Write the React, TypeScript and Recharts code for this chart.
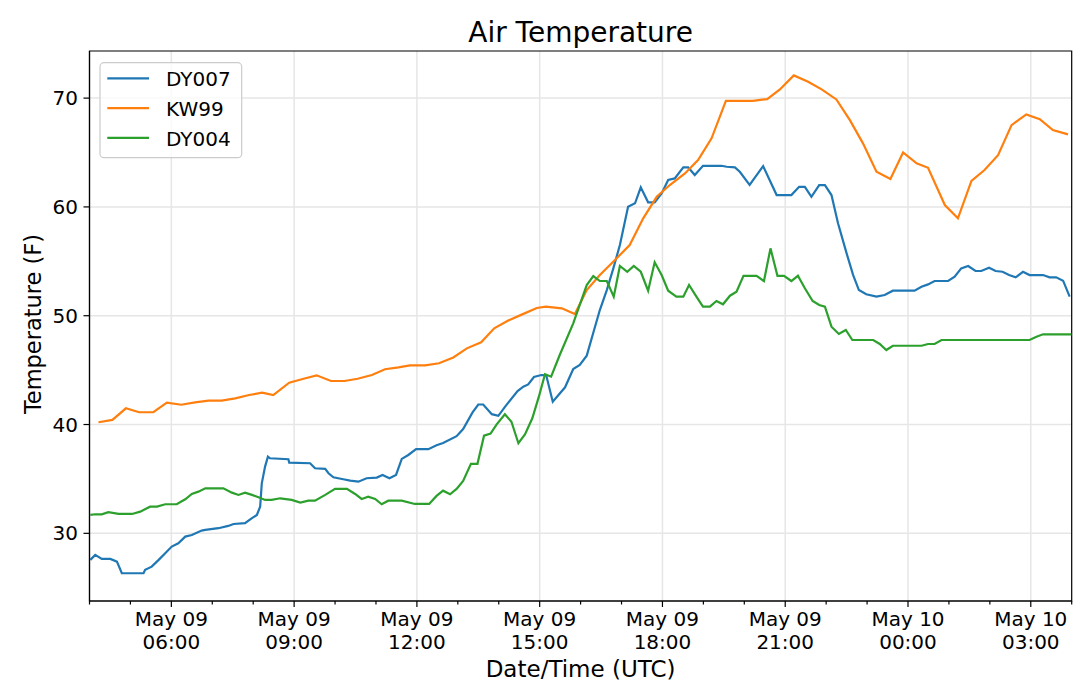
import React from 'react';
import { LineChart, Line, XAxis, YAxis, CartesianGrid, ReferenceArea } from 'recharts';

const seriesNames = ['DY007', 'KW99', 'DY004'];
const seriesColors = ['#1f77b4', '#ff7f0e', '#2ca02c'];

// hours since May 09 00:00 UTC
const dy007Times = [
  4.02, 4.14, 4.30, 4.51, 4.67, 4.79, 5.32, 5.36, 5.52, 5.69,
  5.85, 6.01, 6.17, 6.34, 6.50, 6.74, 6.83, 7.15, 7.39, 7.52,
  7.80, 7.97, 8.09, 8.17, 8.21, 8.29, 8.36, 8.41, 8.86, 8.88,
  9.39, 9.51, 9.76, 9.84, 9.96, 10.20, 10.37, 10.57, 10.77, 11.02,
  11.16, 11.33, 11.49, 11.63, 11.79, 11.98, 12.28, 12.48, 12.64, 12.97,
  13.13, 13.36, 13.50, 13.62, 13.83, 13.99, 14.17, 14.46, 14.60, 14.72,
  14.86, 15.04, 15.16, 15.32, 15.62, 15.82, 15.98, 16.15, 16.31, 16.47,
  16.64, 16.80, 16.96, 17.16, 17.33, 17.47, 17.65, 17.81, 17.98, 18.14,
  18.30, 18.51, 18.63, 18.79, 18.99, 19.44, 19.57, 19.77, 19.89, 20.13,
  20.46, 20.79, 21.15, 21.34, 21.48, 21.64, 21.83, 21.97, 22.13, 22.29,
  22.50, 22.66, 22.80, 22.98, 23.23, 23.43, 23.63, 24.16, 24.33, 24.49,
  24.65, 24.98, 25.14, 25.30, 25.47, 25.65, 25.79, 25.98, 26.14, 26.31,
  26.47, 26.63, 26.81, 26.97, 27.30, 27.46, 27.62, 27.79, 27.95,
];
const dy007Values = [
  27.56, 28.02, 27.65, 27.65, 27.4, 26.33, 26.33, 26.64, 26.94, 27.56,
  28.17, 28.78, 29.09, 29.7, 29.85, 30.25, 30.31, 30.47, 30.68, 30.86,
  30.93, 31.39, 31.69, 32.45, 34.6, 36.13, 37.05, 36.9, 36.81, 36.5,
  36.44, 35.98, 35.92, 35.52, 35.15, 34.97, 34.84, 34.75, 35.06, 35.12,
  35.37, 35.06, 35.37, 36.84, 37.2, 37.73, 37.73, 38.09, 38.3, 38.93,
  39.59, 41.11, 41.84, 41.84, 40.95, 40.8, 41.72, 43.08, 43.48, 43.68,
  44.37, 44.55, 44.52, 42.1, 43.42, 45.1, 45.47, 46.33, 48.44, 50.52,
  52.36, 54.35, 56.5, 60.01, 60.33, 61.8, 60.42, 60.42, 61.24, 62.47,
  62.62, 63.63, 63.63, 62.93, 63.78, 63.78, 63.69, 63.63, 63.23, 62.03,
  63.75, 61.09, 61.09, 61.85, 61.85, 60.93, 62.01, 62.01, 61.09, 58.49,
  55.73, 53.74, 52.36, 51.97, 51.75, 51.9, 52.3, 52.3, 52.66, 52.88,
  53.19, 53.19, 53.58, 54.35, 54.57, 54.11, 54.11, 54.41, 54.11, 54.04,
  53.74, 53.53, 54.04, 53.74, 53.74, 53.53, 53.53, 53.22, 51.75,
];

const kw99Times = [
  4.22, 4.56, 4.89, 5.21, 5.56, 5.89, 6.24, 6.58, 6.91, 7.23,
  7.56, 7.90, 8.22, 8.49, 8.88, 9.23, 9.55, 9.90, 10.23, 10.55,
  10.90, 11.22, 11.55, 11.83, 12.20, 12.54, 12.89, 13.22, 13.57, 13.89,
  14.22, 14.56, 14.93, 15.15, 15.54, 15.86, 16.15, 16.47, 16.84, 17.20,
  17.53, 17.86, 18.18, 18.55, 18.87, 19.20, 19.55, 19.89, 20.21, 20.56,
  20.87, 21.21, 21.56, 21.89, 22.25, 22.58, 22.90, 23.23, 23.57, 23.88,
  24.21, 24.49, 24.90, 25.22, 25.55, 25.87, 26.20, 26.53, 26.89, 27.22,
  27.54, 27.91,
];
const kw99Values = [
  40.21, 40.42, 41.49, 41.13, 41.13, 42.01, 41.82, 42.04, 42.19, 42.19,
  42.41, 42.71, 42.93, 42.71, 43.84, 44.21, 44.52, 44.0, 44.0, 44.21,
  44.55, 45.08, 45.26, 45.44, 45.44, 45.63, 46.16, 47.0, 47.56, 48.84,
  49.54, 50.1, 50.71, 50.83, 50.68, 50.16, 52.36, 53.74, 55.12, 56.5,
  58.95, 60.93, 62.01, 63.08, 64.3, 66.3, 69.75, 69.75, 69.75, 69.91,
  70.8, 72.09, 71.5, 70.8, 69.88, 67.98, 65.84, 63.23, 62.56, 65.01,
  64.0, 63.6, 60.17, 58.95, 62.4, 63.39, 64.76, 67.52, 68.5, 68.07,
  67.06, 66.67,
];

const dy004Times = [
  4.02, 4.14, 4.30, 4.46, 4.71, 5.04, 5.24, 5.48, 5.65, 5.85,
  6.13, 6.34, 6.50, 6.66, 6.83, 7.27, 7.48, 7.64, 7.80, 7.97,
  8.13, 8.29, 8.45, 8.66, 8.94, 9.15, 9.35, 9.51, 9.76, 10.0,
  10.29, 10.49, 10.65, 10.81, 10.98, 11.14, 11.30, 11.63, 11.95, 12.30,
  12.48, 12.64, 12.81, 12.97, 13.13, 13.32, 13.48, 13.64, 13.80, 13.95,
  14.15, 14.31, 14.48, 14.64, 14.82, 14.98, 15.13, 15.28, 15.49, 15.82,
  16.15, 16.31, 16.47, 16.64, 16.81, 16.96, 17.14, 17.30, 17.47, 17.65,
  17.81, 17.98, 18.14, 18.34, 18.51, 18.65, 18.83, 18.99, 19.16, 19.32,
  19.48, 19.65, 19.81, 19.98, 20.30, 20.48, 20.64, 20.81, 20.97, 21.15,
  21.31, 21.48, 21.67, 21.83, 21.97, 22.13, 22.31, 22.48, 22.64, 23.15,
  23.31, 23.47, 23.63, 24.33, 24.49, 24.65, 24.82, 26.97, 27.14, 27.30,
  28.0,
];
const dy004Values = [
  31.69, 31.75, 31.75, 31.94, 31.78, 31.78, 31.99, 32.45, 32.45, 32.67,
  32.67, 33.13, 33.62, 33.83, 34.14, 34.14, 33.74, 33.53, 33.74, 33.53,
  33.32, 33.07, 33.07, 33.22, 33.07, 32.82, 33.0, 33.0, 33.53, 34.08,
  34.08, 33.62, 33.16, 33.37, 33.16, 32.67, 33.0, 33.0, 32.7, 32.7,
  33.44, 33.92, 33.59, 34.08, 34.81, 36.39, 36.39, 38.97, 39.16, 40.02,
  40.94, 40.26, 38.28, 39.09, 40.57, 42.56, 44.63, 44.4, 46.39, 49.3,
  52.82, 53.65, 53.19, 53.19, 51.75, 54.57, 54.04, 54.57, 54.04, 52.3,
  54.91, 53.74, 52.3, 51.75, 51.75, 52.82, 51.75, 50.83, 50.83, 51.35,
  51.05, 51.84, 52.2, 53.67, 53.67, 53.19, 56.19, 53.67, 53.67, 53.19,
  53.67, 52.52, 51.35, 50.98, 50.83, 48.99, 48.32, 48.69, 47.77, 47.77,
  47.4, 46.85, 47.24, 47.24, 47.4, 47.4, 47.77, 47.77, 48.07, 48.29,
  48.29,
];

const majorTickHours = [6, 9, 12, 15, 18, 21, 24, 27];
const majorTickDates = ['May 09', 'May 09', 'May 09', 'May 09', 'May 09', 'May 09', 'May 10', 'May 10'];
const majorTickClock = ['06:00', '09:00', '12:00', '15:00', '18:00', '21:00', '00:00', '03:00'];
const minorTickHours = [4, 5, 6, 7, 8, 9, 10, 11, 12, 13, 14, 15, 16, 17, 18, 19, 20, 21, 22, 23, 24, 25, 26, 27, 28];
const yTicks = [30, 40, 50, 60, 70];

const xDomain = [4, 28];
const yDomain = [23.78, 74.33];

const titleText = 'Air Temperature';
const xLabelText = 'Date/Time (UTC)';
const yLabelText = 'Temperature (F)';

const FONT = '"DejaVu Sans", Verdana, sans-serif';

const zip = (ts: number[], vs: number[]) => ts.map((t, i) => ({ t, v: vs[i] }));
const seriesData = [zip(dy007Times, dy007Values), zip(kw99Times, kw99Values), zip(dy004Times, dy004Values)];

const XTick = (props: any) => {
  const { x, y, payload } = props;
  const idx = majorTickHours.indexOf(payload.value);
  const major = idx >= 0;
  return (
    <g>
      <line x1={x} x2={x} y1={y} y2={y + (major ? 6 : 3.5)} stroke="#000" strokeWidth={1.2} />
      {major && (
        <text x={x} y={y + 24.8} textAnchor="middle" fontSize={20} fontFamily={FONT} fill="#000">
          {majorTickDates[idx]}
        </text>
      )}
      {major && (
        <text x={x} y={y + 48} textAnchor="middle" fontSize={20} fontFamily={FONT} fill="#000">
          {majorTickClock[idx]}
        </text>
      )}
    </g>
  );
};

export default function App() {
  return (
    <div style={{ position: 'absolute', left: 0, top: 0, width: 1080, height: 700, background: '#fff' }}>
      <LineChart width={1080} height={700} margin={{ top: 51, right: 8.3, bottom: 0, left: 0 }}>
        <CartesianGrid
          stroke="#e6e6e6"
          strokeWidth={1.5}
          verticalValues={majorTickHours}
          horizontalValues={yTicks}
        />
        <XAxis
          dataKey="t"
          type="number"
          domain={xDomain}
          allowDataOverflow
          ticks={minorTickHours}
          interval={0}
          tick={<XTick />}
          tickLine={false}
          tickSize={0}
          tickMargin={0}
          height={99}
          stroke="#000"
          axisLine={{ stroke: '#000', strokeWidth: 1.2 }}
        />
        <YAxis
          type="number"
          domain={yDomain}
          allowDataOverflow
          ticks={yTicks}
          width={89.5}
          tickSize={6}
          tickMargin={5.5}
          stroke="#000"
          tickLine={{ stroke: '#000', strokeWidth: 1.2 }}
          axisLine={{ stroke: '#000', strokeWidth: 1.2 }}
          tick={{ fill: '#000', fontSize: 20, fontFamily: FONT }}
        />
        {seriesData.map((d, i) => (
          <Line
            key={seriesNames[i]}
            data={d}
            dataKey="v"
            name={seriesNames[i]}
            type="linear"
            stroke={seriesColors[i]}
            strokeWidth={2.2}
            dot={false}
            activeDot={false}
            isAnimationActive={false}
          />
        ))}
        <ReferenceArea
          x1={xDomain[0]}
          x2={xDomain[1]}
          y1={yDomain[0]}
          y2={yDomain[1]}
          fill="none"
          stroke="#000"
          strokeWidth={1.2}
          ifOverflow="visible"
        />
      </LineChart>
      <svg
        width={1080}
        height={700}
        style={{ position: 'absolute', left: 0, top: 0, pointerEvents: 'none' }}
      >
        <text x={580.6} y={42} textAnchor="middle" fontSize={28} fontFamily={FONT} fill="#000">
          {titleText}
        </text>
        <text x={580.6} y={676.5} textAnchor="middle" fontSize={23} fontFamily={FONT} fill="#000">
          {xLabelText}
        </text>
        <text
          transform="translate(41.4,324) rotate(-90)"
          textAnchor="middle"
          fontSize={22.5}
          fontFamily={FONT}
          fill="#000"
        >
          {yLabelText}
        </text>
        <rect x={100} y={62.7} width={141.7} height={95} rx={4} ry={4} fill="#fff" fillOpacity={0.8} stroke="#cccccc" strokeWidth={1.2} />
        {seriesNames.map((n, i) => (
          <g key={n}>
            <line x1={107.3} x2={149} y1={78.3 + 29.8 * i} y2={78.3 + 29.8 * i} stroke={seriesColors[i]} strokeWidth={2.2} />
            <text x={166} y={85.7 + 30.1 * i} fontSize={20} fontFamily={FONT} fill="#000">
              {n}
            </text>
          </g>
        ))}
      </svg>
    </div>
  );
}
